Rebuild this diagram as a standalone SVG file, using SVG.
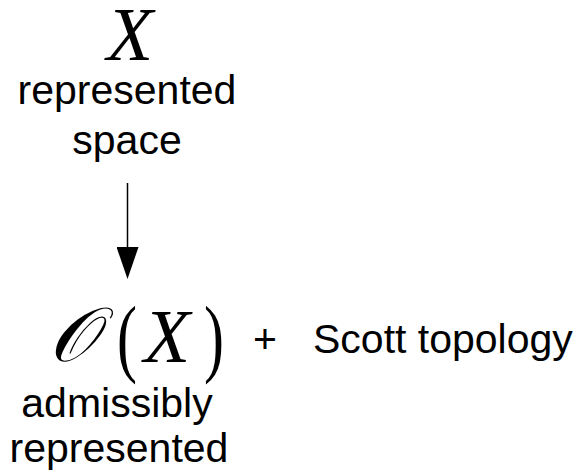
<svg xmlns="http://www.w3.org/2000/svg" width="585" height="471" viewBox="0 0 585 471">
<style>
.lbl{font-family:"Liberation Sans",Arial,sans-serif;font-size:41px;fill:#000}
.math{font-family:"Liberation Serif","Times New Roman",serif;font-style:italic;font-size:76px;fill:#000}
.paren{font-family:"Liberation Serif","Times New Roman",serif;font-size:80px;fill:#000}
</style>
<defs>
<marker id="ah" markerWidth="32" markerHeight="22" refX="0" refY="11" orient="auto" markerUnits="userSpaceOnUse" viewBox="0 0 32 22">
<path d="M0,0 L32,11 L0,22 Z" fill="#000"/>
</marker>
</defs>
<rect width="585" height="471" fill="#fff"/>
<g id="node-X">
<text class="math" x="130" y="60" text-anchor="middle">X</text>
<text class="lbl" x="127" y="104" text-anchor="middle">represented</text>
<text class="lbl" x="127" y="154" text-anchor="middle">space</text>
</g>
<g id="connectors">
<line x1="127.5" y1="183" x2="127.5" y2="247" stroke="#000" stroke-width="1.5" marker-end="url(#ah)"/>
</g>
<g id="node-OX">
<text class="math" x="73" y="361" text-anchor="middle">𝒪</text>
<text class="paren" transform="translate(117,366) scale(0.75,1.08)">(</text>
<text class="math" x="167" y="362" text-anchor="middle">X</text>
<text class="paren" transform="translate(204,366) scale(0.75,1.08)">)</text>
<text class="lbl" x="117" y="417" text-anchor="middle">admissibly</text>
<text class="lbl" x="119" y="462" text-anchor="middle">represented</text>
</g>
<g id="node-scott">
<text class="lbl" x="265" y="353" text-anchor="middle">+</text>
<text class="lbl" x="313" y="353">Scott topology</text>
</g>
</svg>
